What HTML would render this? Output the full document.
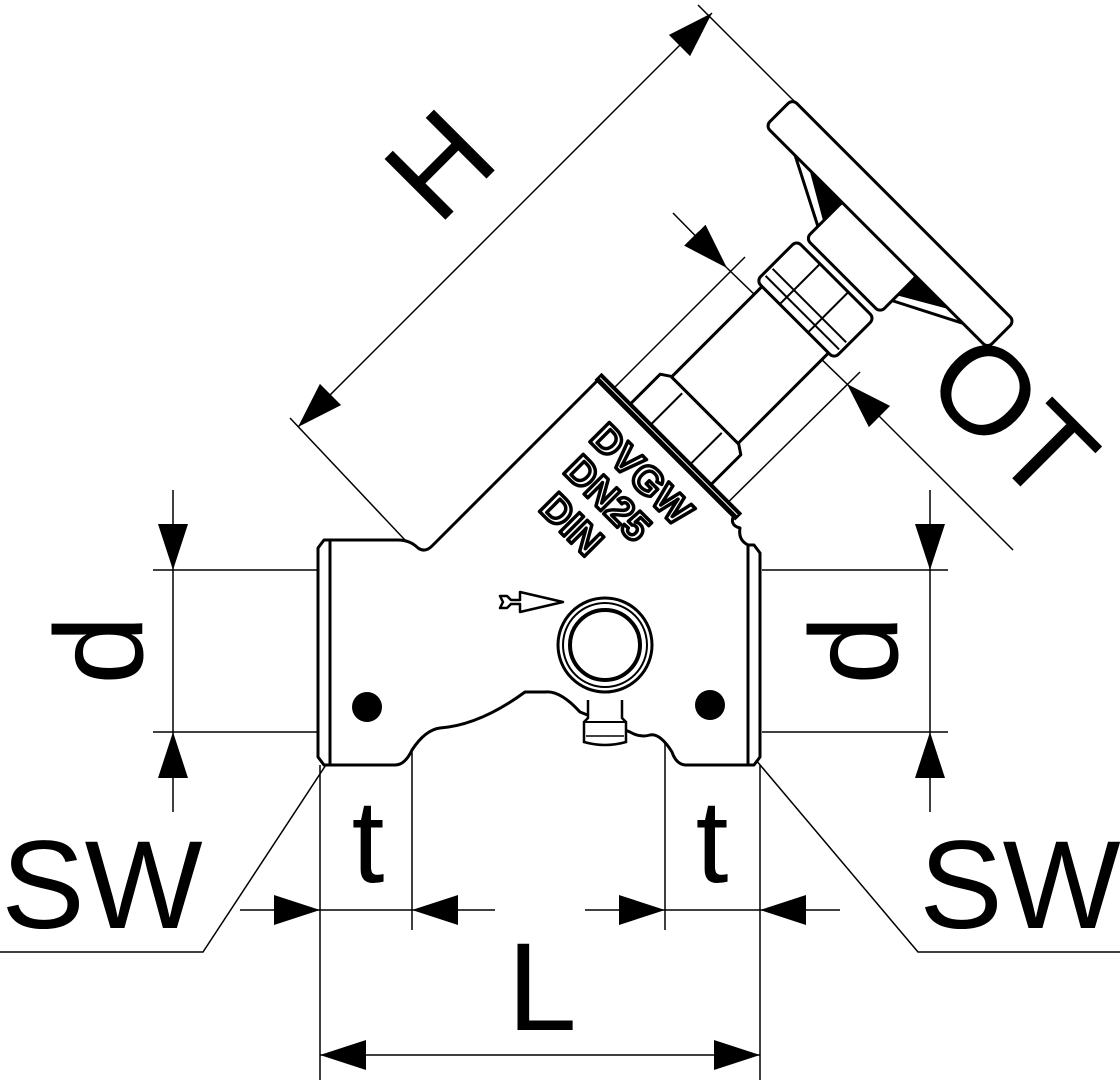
<!DOCTYPE html>
<html><head><meta charset="utf-8"><style>html,body{margin:0;padding:0;background:#fff}svg{display:block}text{font-family:"Liberation Sans",sans-serif}</style></head>
<body>
<svg width="1120" height="1080" viewBox="0 0 1120 1080" xmlns="http://www.w3.org/2000/svg">
<defs>
<marker id="a" viewBox="0 0 46 30" refX="46" refY="15" markerWidth="46" markerHeight="30" markerUnits="userSpaceOnUse" orient="auto"><path d="M0,0 L46,15 L0,30 Z" fill="#000"/></marker>
</defs>
<g fill="none" stroke="#000" stroke-width="1.5">
<line x1="173" y1="490" x2="173" y2="570" marker-end="url(#a)"/>
<line x1="173" y1="812" x2="173" y2="732" marker-end="url(#a)"/>
<line x1="173" y1="570" x2="173" y2="732"/>
<line x1="153" y1="570" x2="318" y2="570"/>
<line x1="153" y1="732" x2="318" y2="732"/>
<line x1="930" y1="490" x2="930" y2="570" marker-end="url(#a)"/>
<line x1="930" y1="812" x2="930" y2="732" marker-end="url(#a)"/>
<line x1="930" y1="570" x2="930" y2="732"/>
<line x1="762" y1="570" x2="948" y2="570"/>
<line x1="762" y1="732" x2="948" y2="732"/>
<line x1="320" y1="765" x2="320" y2="1080"/>
<line x1="412" y1="735" x2="412" y2="930"/>
<line x1="240" y1="910" x2="320" y2="910" marker-end="url(#a)"/>
<line x1="495" y1="910" x2="412" y2="910" marker-end="url(#a)"/>
<line x1="320" y1="910" x2="412" y2="910"/>
<line x1="665" y1="735" x2="665" y2="930"/>
<line x1="760" y1="765" x2="760" y2="1080"/>
<line x1="585" y1="910" x2="665" y2="910" marker-end="url(#a)"/>
<line x1="840" y1="910" x2="760" y2="910" marker-end="url(#a)"/>
<line x1="665" y1="910" x2="760" y2="910"/>
<line x1="540" y1="1055" x2="320" y2="1055" marker-end="url(#a)"/>
<line x1="540" y1="1055" x2="760" y2="1055" marker-end="url(#a)"/>
<polyline points="0,952 203,952 362,710"/>
<polyline points="1120,952 918,952 712,708"/>
<line x1="505" y1="220" x2="298" y2="427" marker-end="url(#a)"/>
<line x1="505" y1="220" x2="712" y2="13" marker-end="url(#a)"/>
<line x1="290" y1="418" x2="438" y2="575"/>
<line x1="698" y1="5" x2="800" y2="107"/>
<line x1="673" y1="213" x2="727" y2="268" marker-end="url(#a)"/>
<line x1="1013" y1="550" x2="847" y2="384" marker-end="url(#a)"/>
<line x1="727" y1="268" x2="847" y2="384"/>
<line x1="590" y1="412" x2="745" y2="257"/>
<line x1="703" y1="527" x2="860" y2="372"/>
</g>

<g fill="#fff" stroke="#000" stroke-width="3" stroke-linejoin="round">
<path d="M330,540 L398,540 Q410,540 418,548 Q425,553 432,546 L600,378 L735,513 Q728,525 740,528 Q738,540 748,545 L748,765 L685,765 Q676,764 672,752 Q660,733 650,735 Q640,738 630,732 L580,712 Q560,690 545,692 L525,692 Q480,725 440,728 Q425,730 412,750 Q405,765 395,765 L330,765 Z"/>
<path d="M318,548 L324,540 L330,540 L330,765 L324,765 L318,757 Z"/>
<path d="M760,553 L754,545 L748,545 L748,765 L754,765 L760,757 Z"/>
</g>
<g stroke="#000" stroke-width="1.5"><line x1="330" y1="540" x2="330" y2="765"/><line x1="748" y1="545" x2="748" y2="765"/></g>
<g fill="#fff" stroke="#000">
<path d="M588,700 L588,718 L584,722 L584,742 Q605,748 626,742 L626,722 L622,718 L622,700" stroke-width="2.5"/>
<line x1="584" y1="722" x2="626" y2="722" stroke-width="2"/>
<line x1="586" y1="736" x2="624" y2="736" stroke-width="1.5"/>
<circle cx="605" cy="645" r="47" stroke-width="3"/>
<circle cx="605" cy="645" r="42" stroke-width="2"/>
<circle cx="605" cy="645" r="35" stroke-width="4"/>
</g>
<circle cx="367" cy="707" r="15" fill="#000"/>
<circle cx="710" cy="705" r="15" fill="#000"/>
<path d="M500,596 L507,596 L511,600 L520,600 L520,592 L563,602 L520,612 L520,604 L511,604 L507,608 L500,608 L503,602 Z" fill="#fff" stroke="#000" stroke-width="2.5" stroke-linejoin="round"/>

<g transform="translate(668,447) rotate(-45)" fill="#fff" stroke="#000" stroke-width="3" stroke-linejoin="round">
<rect x="52" y="-47" width="130" height="94"/>
<path d="M4,-57 L46,-57 L52,-48 L52,48 L46,57 L4,57 Z"/>
<line x1="4" y1="-28" x2="48" y2="-28" stroke-width="2"/>
<line x1="4" y1="28" x2="48" y2="28" stroke-width="2"/>
<rect x="180" y="-55" width="57" height="110" rx="6"/>
<line x1="190" y1="-52" x2="190" y2="52" stroke-width="2"/>
<line x1="200" y1="-52" x2="200" y2="52" stroke-width="2"/>
<line x1="180" y1="-22" x2="237" y2="-22" stroke-width="2"/>
<line x1="180" y1="18" x2="237" y2="18" stroke-width="2"/>
<rect x="245" y="-50" width="54" height="105" rx="6"/>
<path d="M262,-50 L298,-120 M262,55 L298,125" stroke-width="3"/>
<path d="M270,-50 L296,-95 L296,-50 Z M270,55 L296,100 L296,55 Z" fill="#000" stroke-width="1"/>
<rect x="296" y="-158" width="38" height="314" rx="6"/>
<rect x="-4" y="-99" width="9" height="198" fill="#000" stroke-width="1"/>
<line x1="1" y1="-97" x2="1" y2="97" stroke="#fff" stroke-width="1"/>
</g>

<g font-weight="bold" font-size="40" fill="#fff" stroke="#000" stroke-width="3.5" text-anchor="middle" stroke-linejoin="round">
<text transform="translate(632,484) rotate(45)">DVGW</text>
<text transform="translate(598,508) rotate(45)">DN25</text>
<text transform="translate(562,534) rotate(45)">DIN</text>
</g>

<g fill="#000">
<text transform="translate(100,650) rotate(-90)" font-size="125" text-anchor="middle" dominant-baseline="central">d</text>
<text transform="translate(855,650) rotate(-90)" font-size="125" text-anchor="middle" dominant-baseline="central">d</text>
<text x="368" y="882" font-size="118" text-anchor="middle">t</text>
<text x="712" y="882" font-size="118" text-anchor="middle">t</text>
<text x="542" y="1030" font-size="125" text-anchor="middle">L</text>
<text x="102" y="928" font-size="125" text-anchor="middle">SW</text>
<text x="1020" y="928" font-size="125" text-anchor="middle">SW</text>
<text transform="translate(440,165) rotate(-45)" font-size="125" text-anchor="middle" dominant-baseline="central">H</text>
<text transform="translate(1012,418) rotate(45)" font-size="125" text-anchor="middle" dominant-baseline="central">OT</text>
</g>
</svg>
</body></html>
